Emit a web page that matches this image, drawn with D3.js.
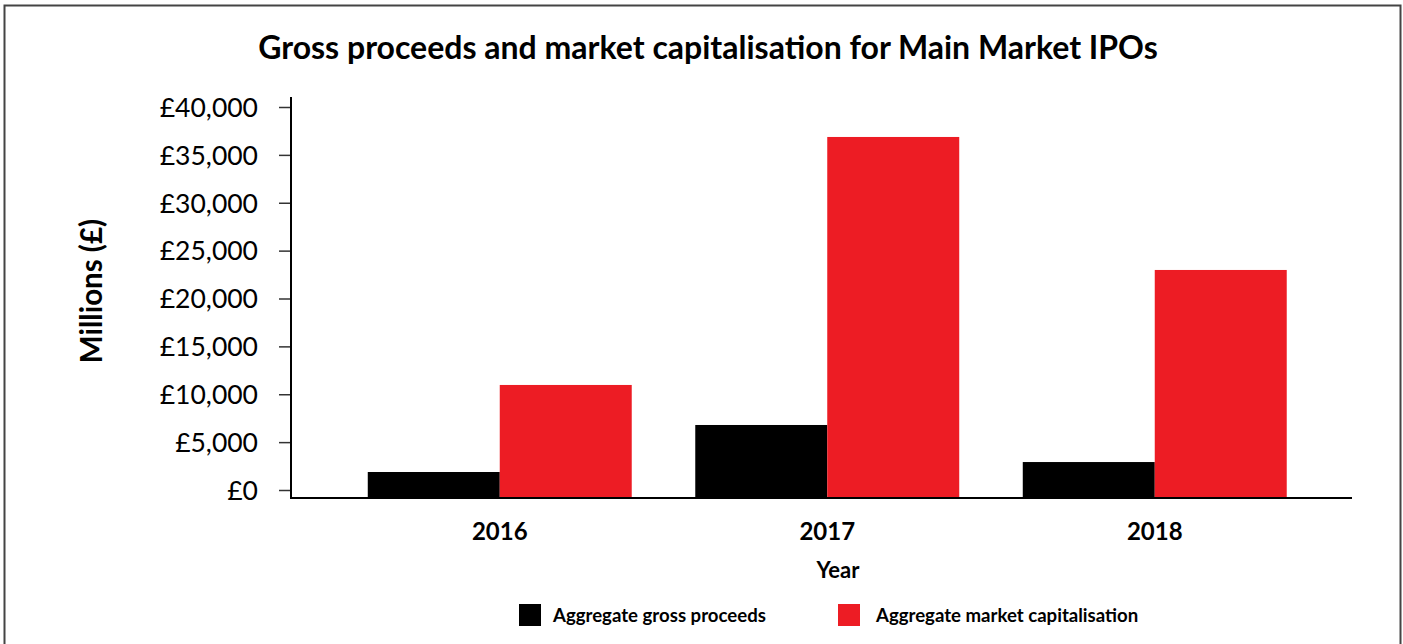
<!DOCTYPE html>
<html>
<head>
<meta charset="utf-8">
<script src="https://cdn.jsdelivr.net/npm/d3@7"></script>
<style>
  body { margin: 0; background: #fff; }
  text { font-family: Lato, "Open Sans", sans-serif; fill: #000; }
</style>
</head>
<body>
<div id="chart"></div>
<script>
var years = ["2016", "2017", "2018"];
var grossProceeds = [1880, 6790, 2920];
var marketCap = [10970, 36870, 22980];
var seriesNames = ["Aggregate gross proceeds", "Aggregate market capitalisation"];
var seriesColors = ["#000000", "#ed1c24"];
var yTicks = [0, 5000, 10000, 15000, 20000, 25000, 30000, 35000, 40000];

var width = 1403, height = 644;
var svg = d3.select("#chart").append("svg")
    .attr("width", width)
    .attr("height", height);

// outer frame
svg.append("rect")
    .attr("x", 4.5).attr("y", 5.5)
    .attr("width", 1396).attr("height", 660)
    .attr("fill", "none")
    .attr("stroke", "#444")
    .attr("stroke-width", 2);

svg.append("text")
    .attr("x", 708).attr("y", 59)
    .attr("text-anchor", "middle")
    .style("font-size", "32px")
    .style("font-weight", "bold")
    .text("Gross proceeds and market capitalisation for Main Market IPOs");

var plotLeft = 291, plotRight = 1352, baseY = 498;

var y = d3.scaleLinear().domain([0, 40000]).range([490, 107]);

var x = d3.scaleBand().domain(years)
    .range([336, 1318.5])
    .paddingInner(0.194)
    .paddingOuter(0.097);

var x1 = d3.scaleBand().domain([0, 1]).range([0, x.bandwidth()]);

var yAxis = d3.axisLeft(y)
    .tickValues(yTicks)
    .tickSize(12)
    .tickPadding(21)
    .tickFormat(function(d) { return "£" + d3.format(",")(d); });

var gy = svg.append("g")
    .attr("transform", "translate(" + plotLeft + ",0)")
    .call(yAxis);
gy.select(".domain").remove();
gy.selectAll(".tick line").attr("stroke", "#333").attr("stroke-width", 1.5);
gy.selectAll(".tick text")
    .style("font-size", "26.5px")
    .attr("dy", "0.35em");

// bars
var groups = svg.append("g").selectAll("g")
    .data(years)
    .join("g")
    .attr("transform", function(d) { return "translate(" + x(d) + ",0)"; });

groups.selectAll("rect")
    .data(function(d, i) { return [grossProceeds[i], marketCap[i]]; })
    .join("rect")
    .attr("x", function(d, j) { return x1(j); })
    .attr("width", x1.bandwidth())
    .attr("y", function(d) { return y(d); })
    .attr("height", function(d) { return baseY - y(d); })
    .attr("fill", function(d, j) { return seriesColors[j]; });

// axis lines
svg.append("path")
    .attr("d", "M" + plotLeft + ",97V" + baseY + "H" + plotRight)
    .attr("fill", "none")
    .attr("stroke", "#000")
    .attr("stroke-width", 2);

// year labels
svg.append("g").selectAll("text")
    .data(years)
    .join("text")
    .attr("x", function(d) { return x(d) + x.bandwidth() / 2; })
    .attr("y", 540)
    .attr("text-anchor", "middle")
    .style("font-size", "24px")
    .style("font-weight", "bold")
    .text(function(d) { return d; });

svg.append("text")
    .attr("x", 838).attr("y", 578)
    .attr("text-anchor", "middle")
    .style("font-size", "22px")
    .style("font-weight", "bold")
    .text("Year");

svg.append("text")
    .attr("transform", "translate(102,291) rotate(-90)")
    .attr("text-anchor", "middle")
    .style("font-size", "29.5px")
    .style("font-weight", "bold")
    .text("Millions (£)");

// legend
var legendX = [519, 838];
var legend = svg.append("g").selectAll("g")
    .data(seriesNames)
    .join("g")
    .attr("transform", function(d, i) { return "translate(" + legendX[i] + ",604)"; });

legend.append("rect")
    .attr("width", 22).attr("height", 22)
    .attr("fill", function(d, i) { return seriesColors[i]; });

legend.append("text")
    .attr("x", function(d, i) { return i === 0 ? 34 : 38; })
    .attr("y", 18)
    .style("font-size", "18.6px")
    .style("font-weight", "bold")
    .text(function(d) { return d; });
</script>
</body>
</html>
